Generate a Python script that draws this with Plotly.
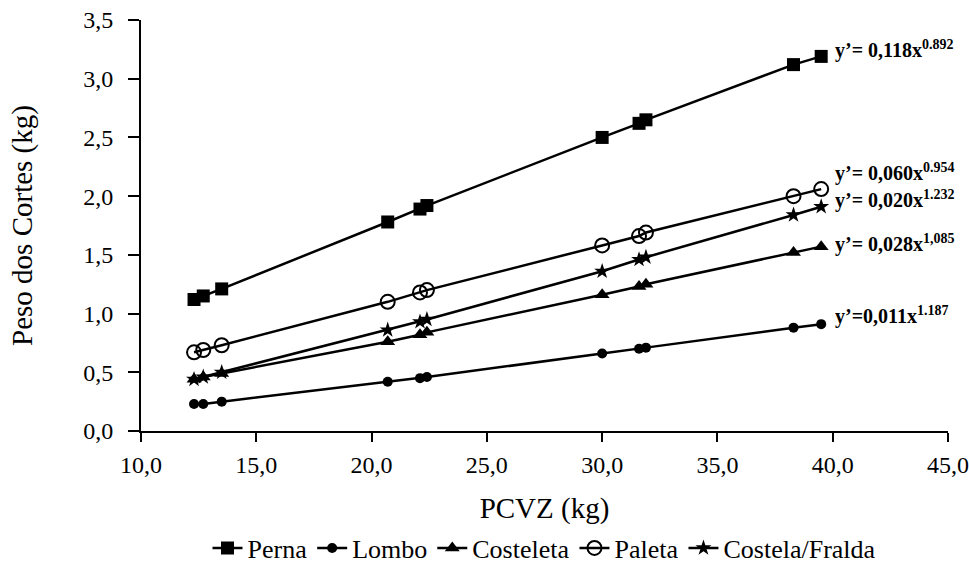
import plotly.graph_objects as go

# Peso vivo ao abate (PCVZ, kg)
pcvz = [12.3, 12.7, 13.5, 20.7, 22.1, 22.4, 30.0, 31.6, 31.9, 38.3, 39.5]

# Peso dos cortes (kg)
perna = [1.12, 1.15, 1.21, 1.78, 1.89, 1.92, 2.50, 2.62, 2.65, 3.12, 3.19]
lombo = [0.23, 0.23, 0.25, 0.42, 0.45, 0.46, 0.66, 0.70, 0.71, 0.88, 0.91]
costeleta = [0.44, 0.46, 0.49, 0.76, 0.82, 0.84, 1.16, 1.23, 1.25, 1.52, 1.57]
paleta = [0.67, 0.69, 0.73, 1.10, 1.18, 1.20, 1.58, 1.66, 1.69, 2.00, 2.06]
costela_fralda = [0.44, 0.46, 0.50, 0.86, 0.93, 0.95, 1.36, 1.46, 1.48, 1.84, 1.91]

series_names = ["Perna", "Lombo", "Costeleta", "Paleta", "Costela/Fralda"]
series_values = [perna, lombo, costeleta, paleta, costela_fralda]
marker_symbols = ["square", "circle", "triangle-up", "circle-open", "star"]
marker_sizes = [13, 10, 13, 14, 12]

# Equações alométricas ajustadas e posição vertical do texto
equations = [
    ("y’= 0,118x<sup>0.892</sup>", 3.245),
    ("y’= 0,060x<sup>0.954</sup>", 2.20),
    ("y’= 0,020x<sup>1.232</sup>", 1.975),
    ("y’= 0,028x<sup>1,085</sup>", 1.60),
    ("y’=0,011x<sup>1.187</sup>", 0.98),
]

FONT = "Liberation Serif"

fig = go.Figure()
for name, vals, sym, size in zip(series_names, series_values, marker_symbols, marker_sizes):
    fig.add_trace(go.Scatter(
        x=pcvz, y=vals, name=name, mode="lines+markers",
        line=dict(color="black", width=2.5),
        marker=dict(symbol=sym, size=size, color="black",
                    line=dict(color="black", width=2 if sym == "circle-open" else 0)),
    ))

for text, ypos in equations:
    fig.add_annotation(
        x=40.0, y=ypos, xref="x", yref="y", text=f"<b>{text}</b>", showarrow=False,
        xanchor="left", yanchor="middle",
        font=dict(family=FONT, size=20, color="black"),
    )

fig.update_layout(
    width=969, height=565,
    margin=dict(l=141, r=21, t=20, b=134, autoexpand=False),
    paper_bgcolor="white", plot_bgcolor="white",
    separators=",.",
    font=dict(family=FONT, size=24, color="black"),
    showlegend=True,
    legend=dict(
        orientation="h", x=0.5, xanchor="center",
        yref="container", y=0.03, yanchor="middle",
        font=dict(family=FONT, size=26, color="black"),
        itemwidth=30, tracegroupgap=0,
    ),
)

fig.update_xaxes(
    range=[10, 45], tickvals=[10, 15, 20, 25, 30, 35, 40, 45], tickformat=".1f",
    showgrid=False, zeroline=False, showline=True, linecolor="black", linewidth=2,
    ticks="outside", ticklen=9, tickwidth=2, tickcolor="black",
    ticklabelstandoff=2, automargin=False,
    title=dict(text="PCVZ (kg)", standoff=24, font=dict(family=FONT, size=29)),
)
fig.update_yaxes(
    range=[0, 3.5], tickvals=[0, 0.5, 1.0, 1.5, 2.0, 2.5, 3.0, 3.5], tickformat=".1f",
    showgrid=False, zeroline=False, showline=True, linecolor="black", linewidth=2,
    ticks="outside", ticklen=11, tickwidth=2, tickcolor="black",
    ticklabelstandoff=10, automargin=False,
    title=dict(text="Peso dos Cortes (kg)", standoff=42, font=dict(family=FONT, size=29)),
)

fig.write_html("out.html")
